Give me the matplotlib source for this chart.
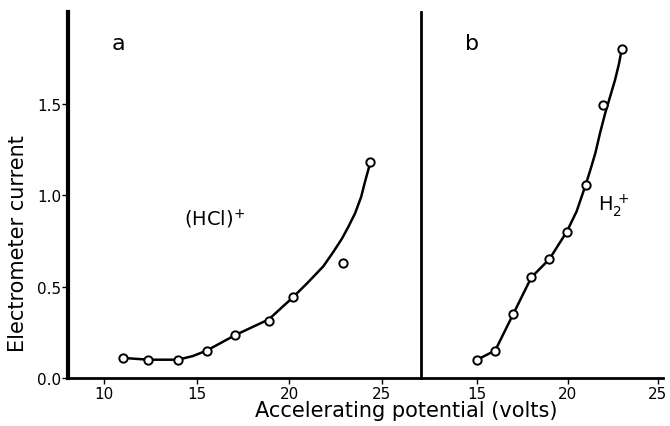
import matplotlib.pyplot as plt

# (HCl)+ measurements, panel a
hcl_x = [11.0, 12.4, 14.0, 15.55, 17.1, 18.9, 20.2, 22.9, 24.4]
hcl_y = [0.11, 0.10, 0.10, 0.15, 0.235, 0.31, 0.44, 0.63, 1.18]
# hand drawn curve through them
hcl_cx = [11.0, 12.4, 14.0, 14.8, 15.55, 17.1, 18.9, 20.2, 21.0, 21.85, 22.4,
          22.85, 23.2, 23.57, 23.9, 24.1, 24.4]
hcl_cy = [0.11, 0.10, 0.10, 0.12, 0.15, 0.235, 0.32, 0.44, 0.52, 0.61, 0.69,
          0.76, 0.825, 0.90, 0.99, 1.07, 1.18]

# H2+ measurements, panel b
h2_x = [15.0, 16.0, 17.0, 18.0, 19.0, 19.96, 21.0, 21.96, 23.0]
h2_y = [0.10, 0.15, 0.35, 0.55, 0.65, 0.80, 1.055, 1.49, 1.80]
h2_cx = [15.0, 16.0, 17.0, 18.0, 19.0, 19.96, 20.5, 21.0, 21.27, 21.54, 21.8,
         22.09, 22.36, 22.63, 22.85, 23.0]
h2_cy = [0.10, 0.15, 0.35, 0.55, 0.65, 0.80, 0.91, 1.055, 1.14, 1.23, 1.34,
         1.45, 1.54, 1.63, 1.72, 1.80]

yticks = [0.0, 0.5, 1.0, 1.5]
ytick_labels = ['0.0', '0.5', '1.0', '1.5']

plt.rcParams['font.family'] = 'DejaVu Sans'

fig = plt.figure(figsize=(6.7, 4.27), dpi=100)
axA = fig.add_axes([0.1015, 0.1124, 0.527, 0.857])
axB = fig.add_axes([0.6284, 0.1124, 0.3612, 0.857])

mk = dict(marker='o', ms=6, mfc='white', mec='black', mew=1.4, linestyle='none', zorder=3)

axA.plot(hcl_cx, hcl_cy, color='black', lw=1.8)
axA.plot(hcl_x, hcl_y, **mk)
axB.plot(h2_cx, h2_cy, color='black', lw=1.8)
axB.plot(h2_x, h2_y, **mk)

axA.set_xlim(8.05, 27.14)
axB.set_xlim(11.9, 25.28)
for ax in (axA, axB):
    ax.set_ylim(0, 2.0)
    ax.spines['top'].set_visible(False)
    ax.spines['right'].set_visible(False)
    ax.spines['bottom'].set_linewidth(2)
    ax.tick_params(direction='out', length=4, width=1, labelsize=11, colors='black')
    ax.tick_params(axis='x', pad=2)
    ax.patch.set_alpha(0)

axA.spines['left'].set_linewidth(3)
axB.spines['left'].set_linewidth(2)
axA.set_xticks([10, 15, 20, 25])
axB.set_xticks([15, 20, 25])
axA.set_yticks(yticks)
axA.set_yticklabels(ytick_labels)
axB.set_yticks([])
axA.tick_params(axis='y', pad=1)

axA.set_ylabel('Electrometer current', fontsize=15)
axA.yaxis.set_label_coords(-0.113, 0.37)
fig.text(0.607, 0.038, 'Accelerating potential (volts)', fontsize=15, ha='center', va='center')

axA.text(10.8, 1.83, 'a', fontsize=16, ha='center', va='center')
axB.text(14.7, 1.83, 'b', fontsize=16, ha='center', va='center')
axA.text(16.0, 0.87, r'(HCl)$^{+}$', fontsize=14, ha='center', va='center')
axB.text(21.7, 0.95, r'H$_2^{\,+}$', fontsize=14, ha='left', va='center')

fig.savefig('out.png', dpi=100)
